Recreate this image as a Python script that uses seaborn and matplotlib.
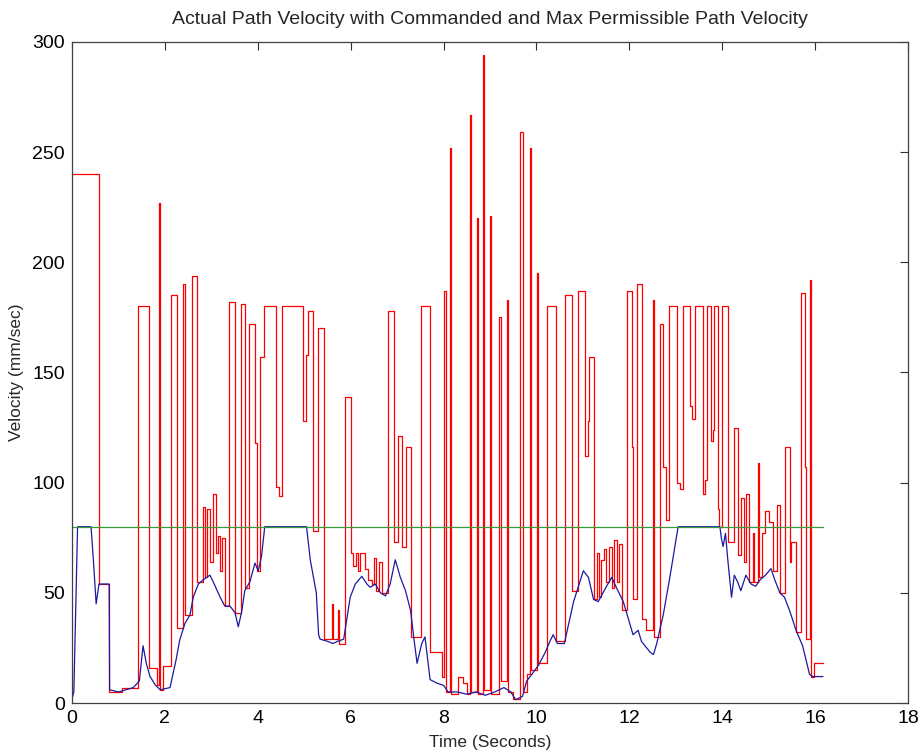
import matplotlib
matplotlib.use("Agg")
import matplotlib.pyplot as plt
import seaborn as sns
import pandas as pd

# Commanded path velocity (step changes: start time, value)
cmd_t = [0.00, 0.59, 0.80, 1.07, 1.43, 1.66, 1.82, 1.88, 1.90, 1.97, 2.14, 2.26, 2.38, 2.44, 2.58, 2.70,
         2.81, 2.86, 2.91, 2.98, 3.04, 3.11, 3.15, 3.19, 3.23, 3.29, 3.39, 3.50, 3.63, 3.73, 3.82, 3.94,
         3.98, 4.04, 4.14, 4.40, 4.45, 4.53, 4.98, 5.04, 5.09, 5.19, 5.29, 5.42, 5.59, 5.61, 5.72, 5.74,
         5.88, 6.00, 6.06, 6.12, 6.16, 6.20, 6.30, 6.37, 6.45, 6.50, 6.55, 6.62, 6.68, 6.80, 6.94, 7.02,
         7.10, 7.19, 7.30, 7.51, 7.70, 7.96, 8.00, 8.05, 8.13, 8.15, 8.31, 8.42, 8.50, 8.57, 8.59, 8.72,
         8.74, 8.85, 8.87, 9.01, 9.03, 9.20, 9.23, 9.36, 9.38, 9.50, 9.65, 9.71, 9.79, 9.87, 9.89, 10.02,
         10.04, 10.23, 10.43, 10.61, 10.77, 10.90, 11.05, 11.10, 11.13, 11.23, 11.30, 11.35, 11.40, 11.45,
         11.50, 11.56, 11.62, 11.68, 11.73, 11.78, 11.84, 11.96, 12.05, 12.08, 12.16, 12.27, 12.35, 12.51,
         12.53, 12.65, 12.72, 12.78, 12.85, 13.02, 13.10, 13.15, 13.31, 13.36, 13.42, 13.58, 13.62, 13.67,
         13.75, 13.80, 13.82, 13.90, 13.94, 13.99, 14.13, 14.25, 14.33, 14.40, 14.47, 14.51, 14.58, 14.66,
         14.69, 14.78, 14.80, 14.85, 14.92, 15.01, 15.10, 15.17, 15.25, 15.35, 15.45, 15.49, 15.59, 15.70,
         15.78, 15.81, 15.90, 15.92, 15.97, 16.17]
cmd_v = [240, 54, 5, 7, 180, 16, 8, 227, 6, 17, 185, 34, 190, 40, 194, 55,
         89, 57, 88, 64, 95, 68, 76, 60, 75, 44, 182, 41, 181, 52, 172, 118,
         60, 157, 180, 98, 94, 180, 128, 158, 178, 78, 170, 29, 45, 29, 42, 27,
         139, 68, 62, 68, 60, 68, 61, 56, 54, 66, 51, 64, 50, 178, 73, 121,
         71, 116, 30, 180, 23, 12, 187, 5, 252, 4, 12, 9, 4, 267, 5, 220,
         4, 294, 6, 221, 4, 175, 10, 183, 5, 2, 259, 5, 13, 252, 15, 195,
         18, 180, 28, 185, 51, 187, 112, 128, 157, 47, 68, 48, 65, 70,
         55, 71, 52, 74, 55, 72, 42, 187, 116, 47, 190, 38, 33, 183,
         30, 172, 107, 83, 180, 100, 97, 180, 135, 129, 180, 95, 101, 180,
         119, 124, 180, 88, 80, 180, 73, 125, 67, 93, 64, 95, 55, 77,
         55, 109, 57, 77, 87, 82, 60, 90, 50, 116, 64, 73, 32, 186,
         107, 29, 192, 12, 18, 18]

# Actual path velocity
act_t = [0.00, 0.04, 0.12, 0.41, 0.46, 0.52, 0.58, 0.80, 0.81, 1.00, 1.32, 1.45, 1.53, 1.60, 1.68, 1.80,
         1.90, 2.11, 2.24, 2.32, 2.43, 2.54, 2.61, 2.72, 2.83, 2.97, 3.04, 3.19, 3.29, 3.40, 3.51, 3.58,
         3.65, 3.72, 3.83, 3.94, 4.01, 4.08, 4.15, 5.05, 5.13, 5.20, 5.26, 5.31, 5.34, 5.50, 5.62, 5.72,
         5.85, 5.99, 6.10, 6.24, 6.35, 6.42, 6.53, 6.64, 6.75, 6.85, 6.96, 7.07, 7.18, 7.29, 7.36, 7.43,
         7.53, 7.60, 7.71, 7.86, 8.00, 8.10, 8.30, 8.50, 8.70, 8.90, 9.10, 9.30, 9.45, 9.55, 9.70, 9.79,
         9.90, 10.04, 10.19, 10.29, 10.36, 10.45, 10.60, 10.80, 11.01, 11.12, 11.23, 11.33, 11.51, 11.62,
         11.73, 11.87, 12.01, 12.08, 12.19, 12.26, 12.45, 12.52, 12.59, 12.73, 12.88, 13.05, 13.95, 13.98,
         14.02, 14.07, 14.12, 14.20, 14.26, 14.33, 14.40, 14.51, 14.62, 14.72, 14.82, 14.93, 15.05, 15.13,
         15.24, 15.34, 15.45, 15.59, 15.73, 15.88, 15.95, 16.17]
act_v = [2, 5, 80, 80, 65, 45, 54, 54, 6, 5, 7, 10, 26, 18, 12, 8,
         6, 7, 19.5, 28.6, 36, 40, 48, 54, 56, 58, 55, 48, 44, 44, 41, 34.6,
         41, 51, 55, 63.5, 60, 66.5, 80, 80, 65, 57, 50, 31, 29, 28, 27, 28,
         29, 48, 54, 57.5, 54, 52.5, 54, 50, 48.6, 54, 65, 57, 51, 42, 29.5, 18,
         27, 30, 10.6, 9, 8, 5, 5, 4, 5, 3.5, 5, 7, 5, 1.5, 3, 10,
         13, 17, 23, 28, 31, 27, 27, 46, 60, 57, 47, 46, 53, 57,
         52, 46, 36, 31, 33, 28, 23, 22, 27, 40, 58, 80, 80, 75,
         71, 77, 65, 48, 58, 55, 51, 58, 54, 53, 56, 58, 61, 56,
         50, 48, 42, 33, 26, 13, 12, 12]

# Max permissible path velocity
max_t = [0.0, 16.17]
max_v = [80, 80]

title = "Actual Path Velocity with Commanded and Max Permissible Path Velocity"
x_label = "Time (Seconds)"
y_label = "Velocity (mm/sec)"

sns.set_theme(style="white")
plt.rcParams['font.family'] = ['Liberation Sans', 'DejaVu Sans']

fig = plt.figure(figsize=(9.21, 7.56), dpi=100)
ax = fig.add_axes([72/921, 1 - 703/756, (908-72)/921, (703-42)/756])

df_cmd = pd.DataFrame({"t": cmd_t, "v": cmd_v})
df_act = pd.DataFrame({"t": act_t, "v": act_v})
df_max = pd.DataFrame({"t": max_t, "v": max_v})

sns.lineplot(data=df_cmd, x="t", y="v", ax=ax, color="#ff0000", lw=0.9,
             drawstyle="steps-post", estimator=None, sort=False)
sns.lineplot(data=df_act, x="t", y="v", ax=ax, color="#1a1aa0", lw=0.9,
             estimator=None, sort=False)
sns.lineplot(data=df_max, x="t", y="v", ax=ax, color="#3a9a3a", lw=0.9,
             estimator=None, sort=False)

ax.set_xlim(0, 18)
ax.set_ylim(0, 300)
ax.set_xticks(range(0, 19, 2))
ax.set_yticks(range(0, 301, 50))
ax.tick_params(axis="both", direction="in", length=6, width=0.8, color="#303030",
               labelsize=14, top=True, right=True, labelcolor="black", pad=5)
for s in ax.spines.values():
    s.set_color("#404040")
    s.set_linewidth(0.9)
ax.set_title(title, fontsize=14, pad=13)
ax.set_xlabel(x_label, fontsize=12.5, labelpad=6)
ax.set_ylabel(y_label, fontsize=12.5, labelpad=6)

fig.savefig("out.png", dpi=100)
